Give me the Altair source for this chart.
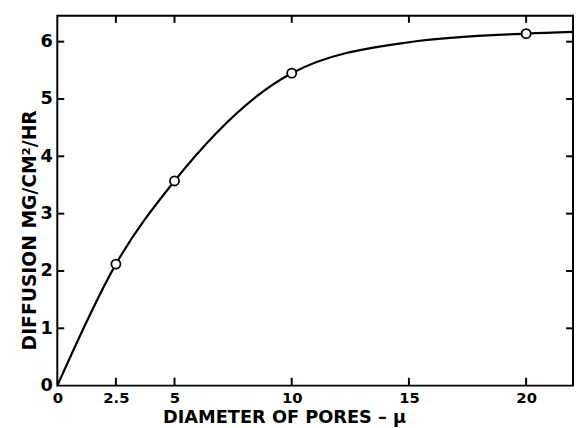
import altair as alt
import pandas as pd

# Data
pt_x = [2.5, 5, 10, 20]
pt_y = [2.12, 3.57, 5.45, 6.14]
curve_x = [0, 2.5, 5, 10, 15, 20, 22]
curve_y = [0, 2.12, 3.57, 5.45, 5.99, 6.14, 6.17]
x_ticks = [0, 2.5, 5, 10, 15, 20]
y_ticks = [0, 1, 2, 3, 4, 5, 6]
x_max = 22
y_max = 6.45

FONT = "DejaVu Sans"

pts = pd.DataFrame({"x": pt_x, "y": pt_y})
curve = pd.DataFrame({"x": curve_x, "y": curve_y})
xt = pd.DataFrame({"v": [t for t in x_ticks if t > 0]})
yt = pd.DataFrame({"v": [t for t in y_ticks if t > 0]})

xs = alt.Scale(domain=[0, x_max], nice=False, zero=False)
ys = alt.Scale(domain=[0, y_max], nice=False, zero=False)

x_axis = alt.Axis(
    values=x_ticks, format="~g", ticks=False, domain=False, grid=False,
    labelFont=FONT, labelFontWeight="bold", labelFontSize=15, labelColor="black",
    labelPadding=5, labelOverlap=False, labelFlush=False, labelBound=False,
    title="DIAMETER OF PORES – μ", titleFont=FONT, titleFontWeight="bold",
    titleFontSize=18, titleColor="black", titleX=230, titleY=37,
    titleAlign="center", titleBaseline="alphabetic",
)
y_axis = alt.Axis(
    values=y_ticks, format="~g", ticks=False, domain=False, grid=False,
    labelFont=FONT, labelFontWeight="bold", labelFontSize=18, labelColor="black",
    labelPadding=5, labelOverlap=False, labelFlush=False, labelBound=False,
    title="DIFFUSION  MG/CM²/HR", titleFont=FONT, titleFontWeight="bold",
    titleFontSize=19, titleColor="black", titleX=-22, titleY=217,
    titleAlign="center", titleBaseline="alphabetic", titleAngle=270,
)

line = alt.Chart(curve).mark_line(
    color="black", strokeWidth=2.2, interpolate="monotone", clip=True
).encode(
    x=alt.X("x:Q", scale=xs, axis=x_axis),
    y=alt.Y("y:Q", scale=ys, axis=y_axis),
)

points = alt.Chart(pts).mark_point(
    shape="circle", filled=True, fill="white", stroke="black",
    strokeWidth=1.8, size=85, opacity=1
).encode(x=alt.X("x:Q", scale=xs), y=alt.Y("y:Q", scale=ys))

left_ticks = alt.Chart(yt).mark_tick(
    orient="horizontal", size=7, thickness=2, color="black", xOffset=3.5, opacity=1
).encode(x=alt.datum(0, scale=xs), y=alt.Y("v:Q", scale=ys))
right_ticks = alt.Chart(yt).mark_tick(
    orient="horizontal", size=7, thickness=2, color="black", xOffset=-3.5, opacity=1
).encode(x=alt.datum(x_max, scale=xs), y=alt.Y("v:Q", scale=ys))
bottom_ticks = alt.Chart(xt).mark_tick(
    orient="vertical", size=8, thickness=2, color="black", yOffset=-4, opacity=1
).encode(x=alt.X("v:Q", scale=xs), y=alt.datum(0, scale=ys))
top_ticks = alt.Chart(xt).mark_tick(
    orient="vertical", size=7, thickness=2, color="black", yOffset=3.5, opacity=1
).encode(x=alt.X("v:Q", scale=xs), y=alt.datum(y_max, scale=ys))

chart = alt.layer(
    line, left_ticks, right_ticks, bottom_ticks, top_ticks, points
).properties(
    width=523, height=375, autosize="none",
    padding={"left": 50, "top": 5, "right": 1, "bottom": 40},
    background="white",
).configure_view(stroke="black", strokeWidth=2)

chart.save("out.html", embed_options={"renderer": "svg", "actions": False})
